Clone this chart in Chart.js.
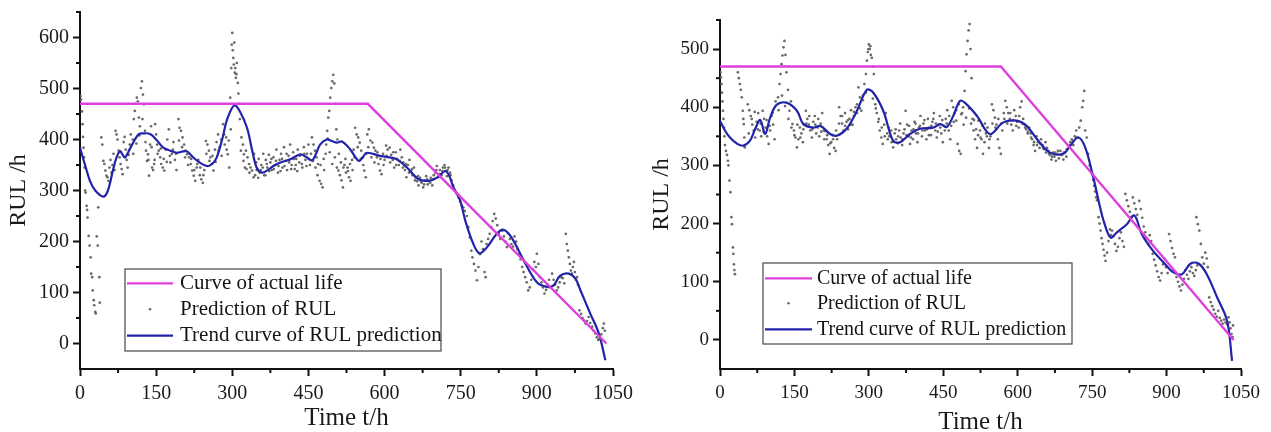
<!DOCTYPE html>
<html><head><meta charset="utf-8">
<script src="https://cdn.jsdelivr.net/npm/chart.js@4.4.1/dist/chart.umd.min.js"></script>
<style>
html,body{margin:0;padding:0;background:#fff;width:1271px;height:432px;overflow:hidden}
.wrap{position:absolute;top:0;height:432px}
</style></head><body>
<div class="wrap" style="left:0;width:640px"><canvas id="c1" width="640" height="432"></canvas></div>
<div class="wrap" style="left:640px;width:631px"><canvas id="c2" width="631" height="432"></canvas></div>
<script>
// ---------- data ----------
const legendLabels = ['Curve of actual life', 'Prediction of RUL', 'Trend curve of RUL prediction'];
const xTitle = 'Time t/h';
const yTitle = 'RUL /h';

const leftActual = [[0,470],[567,470],[1037,0]];
const rightActual = [[0,470],[566,470],[1035,0]];

const leftTrend = [[0,384],[10,350],[20,318],[30,300],[46,288],[55,300],[65,340],[72,365],[79,377],[84,370],[89,365],[100,385],[115,410],[125,412],[138,411],[150,400],[164,384],[178,378],[191,374],[200,376],[210,377],[220,368],[230,359],[250,348],[260,352],[269,364],[280,400],[290,440],[304,467],[315,455],[329,423],[340,375],[348,345],[358,335],[370,340],[381,348],[395,355],[414,361],[434,371],[445,366],[457,359],[465,372],[473,390],[486,400],[496,397],[506,394],[516,396],[532,381],[549,358],[557,365],[565,374],[591,368],[610,365],[624,361],[644,345],[667,322],[687,319],[703,325],[721,338],[736,306],[749,280],[759,241],[775,195],[787,177],[802,189],[821,215],[834,223],[850,208],[874,163],[900,120],[920,111],[933,114],[946,133],[963,137],[976,127],[986,104],[1005,59],[1022,20],[1035,-33]];

const rightTrend = [[0,377],[10,360],[20,348],[35,337],[47,334],[60,342],[71,363],[81,378],[91,354],[101,382],[114,404],[134,408],[155,394],[168,371],[188,365],[202,368],[222,354],[235,351],[255,363],[276,394],[296,430],[309,425],[329,394],[349,342],[363,340],[383,354],[403,363],[430,365],[444,371],[457,366],[470,385],[484,411],[497,405],[518,385],[544,354],[571,374],[598,377],[618,368],[639,345],[665,322],[692,320],[706,334],[722,348],[736,331],[753,277],[766,228],[773,205],[787,176],[800,185],[820,199],[835,214],[850,182],[870,156],[894,133],[914,116],[931,113],[948,131],[965,131],[981,113],[1002,73],[1022,33],[1032,-36]];

const leftPred = [[1,485],[2,478],[3,470],[4,455],[5,430],[6,405],[7,384],[8,365],[9,345],[10,300],[11,296],
[13,270],[14,262],[15,247],[17,211],[19,192],[21,169],[22,137],[24,130],[25,104],[27,85],[28,75],[30,62],[31,59],[33,210],[35,192],[36,267],[38,130],[39,80],
[42,404],[44,390],[46,358],[48,352],[50,339],[52,329],[54,326],[56,319],[58,345],[60,360],[62,335],[64,350],[66,372],[68,340],
[70,417],[72,410],[74,400],[76,378],[78,365],[80,352],[82,342],[84,332],[86,395],[88,405],[90,380],[92,360],[94,345],[96,370],[98,390],[100,410],
[104,400],[106,440],[108,456],[110,470],[112,482],[114,475],[116,443],[118,426],[120,501],[122,514],[124,488],[126,469],[128,417],[130,378],[132,358],[134,371],[136,329],[138,390],[140,426],[142,345],[144,340],[146,352],
[148,430],[150,410],[152,390],[155,378],[158,365],[160,352],[163,345],[166,339],[169,380],[172,400],[175,420],[178,355],[181,372],[184,395],[187,360],[190,340],
[194,440],[196,423],[199,417],[202,404],[205,390],[208,378],[211,371],
[215,365],[218,352],[221,339],[224,329],[227,319],[230,345],[233,360],[236,330],[239,322],[242,315],[245,340],
[248,397],[251,390],[254,378],[257,365],[260,352],[263,339],[266,380],[269,395],[272,410],[275,385],[278,400],
[282,430],[285,390],[288,404],[291,371],[294,345],[296,482],[298,540],[299,586],[300,609],[302,560],[303,547],[305,531],[307,521],[309,550],[311,511],[313,470],[315,440],[318,404],[321,390],[323,371],[325,345],
[327,378],[330,365],[333,352],[336,345],[339,339],[342,326],[345,330],[348,340],[351,325],[354,335],[357,350],[360,345],[363,330],
[366,360],[369,345],[372,370],[375,355],[378,340],[381,365],[384,350],[387,380],[390,335],[393,360],[396,372],[399,345],[402,385],[405,358],[408,340],[411,368],[414,390],[417,350],[420,375],[423,342],[426,362],[429,380],[432,355],[435,370],[438,345],[441,385],[444,360],[447,372],[450,390],[453,350],
[457,404],[460,390],[463,378],[466,365],[469,352],[472,319],[475,313],[478,306],[481,340],[484,372],[487,417],[489,443],[491,456],[493,482],[495,501],[497,514],[499,527],[501,510],[503,470],[505,420],[507,400],[509,339],
[512,330],[515,320],[518,306],[521,350],[524,335],[527,345],[530,326],[533,319],[536,360],[539,380],
[542,423],[545,410],[548,404],[551,394],[554,378],[557,365],[560,339],[563,326],[566,410],[569,420],[572,398],
[576,394],[579,384],[582,378],[585,365],[588,352],[591,339],[594,332],[597,372],[600,360],[603,388],[606,380],
[610,384],[613,370],[616,360],[619,345],[622,375],[625,362],[628,350],[631,380],[634,365],[637,355],[640,340],[643,326],[646,350],[649,360],[652,338],[655,330],[658,345],
[661,326],[664,318],[667,310],[670,325],[673,315],[676,306],[679,320],[682,328],[685,312],[688,318],[691,325],[694,310],[697,330],
[700,335],[703,348],[706,326],[709,340],[712,330],[715,345],[718,350],[720,338],[723,328],[726,345],[729,335],[732,320],[735,310],[738,300],[741,295],
[746,286],[749,278],[752,270],[755,267],[758,260],
[762,250],[765,228],[768,208],[771,182],[773,169],[776,156],[779,143],[782,124],[785,150],[788,175],[791,200],[794,185],[797,140],[799,130],
[801,195],[804,205],[807,215],[810,228],[813,240],[816,254],[819,245],[822,232],[825,215],[828,205],
[832,221],[835,210],[838,200],[841,189],[844,215],[847,205],[850,195],[853,190],[856,210],[859,200],[862,185],[865,175],[868,165],
[871,150],[874,140],[877,130],[880,120],[883,104],[886,110],[889,125],[892,145],[895,160],[898,150],
[900,176],[903,156],[906,130],[909,120],[912,110],[915,98],[918,105],[921,115],[924,125],[927,110],
[930,137],[933,125],[936,115],[939,104],[942,110],[945,120],[948,130],[951,128],[954,118],
[957,215],[959,195],[961,182],[963,169],[965,156],[967,143],[969,137],[971,150],[973,160],[975,140],[977,125],[979,130],[981,115],
[984,65],[987,58],[990,50],[993,45],[996,39],[999,44],[1002,52],[1005,40],
[1009,33],[1012,25],[1015,20],[1018,12],[1021,7],[1024,10],[1027,18],[1030,30],[1032,39],[1034,25],
[343,372],[347,355],[352,362],[356,340],[361,372],[365,330],[368,352],[373,338],[377,362],[382,342],[386,358],[391,348],[395,338],[398,362],[403,348],[407,372],[412,355],[416,342],[421,362],[425,350],[428,338],[433,368],[437,352],[442,372],[446,348],[451,362],[455,372],[459,358],[464,345],[468,330],[474,350],[480,362],[485,390],[488,402],[492,375],[497,352],[502,365],[506,345],[510,372],[514,355],[519,345],[523,362],[528,338],[532,352],[537,340],[541,365],[547,385],[553,362],[558,350],[564,372],[568,385],[574,365],[580,355],[586,375],[592,362],[598,350],[604,368],[611,355],[617,375],[623,350],[630,358],[636,345],[642,352],[648,335],[654,342],[660,320],[666,328],[672,318],[678,312],[684,322],[690,315],[696,322],[702,340],[708,332],[714,338],[719,345],[724,340],[730,330],
[105,372],[111,392],[117,408],[123,440],[129,395],[135,360],[141,385],[147,360],[153,372],[159,382],[165,362],[171,356],[177,368],[183,380],[189,372],[195,398],[201,385],[207,365],[213,350],[219,362],[225,340],[231,352],[237,345],[243,330],[249,372],[255,358],[261,368],[267,356],[273,378],[279,368],[284,410],[289,380],[293,398],[297,420],[301,575],[304,590],[306,540],[308,528],[312,490],[317,378],[322,358],[328,342],[334,335]];

const rightPred = [[1,460],[2,451],[3,440],[4,425],[5,410],[6,394],[7,380],[8,365],[9,350],[10,335],
[12,325],[14,318],[16,308],[17,300],[19,274],[21,254],[23,211],[24,199],[26,159],[27,148],[28,130],[29,120],[30,113],
[36,460],[38,450],[40,440],[42,430],[44,417],[46,394],[47,380],[48,371],[49,348],[50,331],
[56,405],[59,395],[62,385],[65,370],[68,360],[71,348],[74,375],[77,390],[80,360],[83,350],
[86,394],[89,380],[92,365],[95,350],[98,337],[101,360],[104,385],[107,370],[110,345],
[117,417],[120,440],[122,457],[124,474],[126,489],[128,503],[130,514],[132,490],[134,460],[137,430],[140,394],[143,410],
[146,371],[149,360],[152,348],[155,331],[158,345],[161,365],[164,355],[167,340],[170,370],
[173,394],[176,380],[179,370],[182,360],[185,348],[188,375],[191,385],[194,355],[197,365],[200,350],[203,372],[206,390],[209,360],
[212,359],[215,345],[218,335],[221,320],[224,340],[227,352],[230,330],[233,325],[236,345],
[240,400],[243,385],[246,372],[249,360],[252,390],[255,375],[258,362],[261,380],[264,395],[267,370],[270,385],[273,400],[276,390],
[279,434],[282,417],[285,394],[288,420],[291,440],[294,457],[296,480],[298,495],[300,508],[302,500],[304,490],[306,485],[308,470],[310,457],
[313,405],[316,390],[319,375],[322,360],[325,348],[328,337],[331,370],[334,390],[337,355],
[340,365],[343,350],[346,340],[349,331],[352,355],[355,345],[358,338],[361,360],[364,348],[367,335],[370,355],
[374,394],[377,370],[380,350],[383,337],[386,360],[389,345],[392,375],[395,355],[398,340],[401,365],[404,385],[407,350],[410,372],[413,360],[416,345],[419,380],[422,365],[425,352],[428,375],[431,390],[434,360],[437,348],[440,370],[443,385],[446,355],[449,340],[452,368],[455,380],[458,395],[461,360],[464,345],
[467,411],[470,400],[473,390],[476,377],[479,337],[482,325],[485,320],[488,390],[490,400],[493,428],[495,462],[497,491],[499,514],[501,532],[503,543],[505,500],[507,450],[509,380],[511,360],[514,345],
[518,330],[521,377],[524,360],[527,345],[530,320],[533,340],[536,355],[539,365],[542,330],[545,350],
[548,405],[551,395],[554,382],[557,370],[560,345],[563,330],[566,320],[569,360],[572,390],
[575,411],[578,400],[581,390],[584,380],[587,370],[590,360],[593,395],[596,385],[599,375],[602,365],[605,400],[608,410],[611,380],[614,370],[617,362],[620,355],
[623,365],[626,355],[629,345],[632,335],[635,325],[638,350],[641,340],[644,330],[647,345],[650,335],[653,328],[656,340],[659,330],
[662,325],[665,318],[668,310],[671,322],[674,315],[677,308],[680,320],[683,312],[686,325],[689,318],[692,310],[695,322],[698,315],
[703,330],[706,340],[709,345],[712,335],[715,350],[718,360],[721,348],[724,365],[727,377],[730,400],[732,411],[734,428],[736,360],[739,348],[742,320],[745,300],
[750,285],[752,275],[754,265],[756,255],[758,245],[760,240],
[763,211],[765,200],[767,188],[769,175],[771,165],[773,155],[775,145],[777,136],[780,150],[783,170],[786,190],[788,180],
[790,188],[793,178],[796,165],[799,153],[802,160],[805,175],[808,185],[811,170],[814,160],
[817,251],[820,240],[823,230],[826,220],[829,211],[832,245],[835,235],[838,225],[841,215],
[845,239],[848,225],[851,210],[854,195],[857,185],[860,175],[863,165],[866,180],[869,170],
[872,148],[875,138],[878,128],[881,118],[884,108],[887,102],[890,115],[893,130],[896,140],[899,125],[902,115],
[905,182],[908,170],[911,158],[914,148],[917,142],[920,108],[923,100],[926,92],[929,85],[932,95],[935,105],
[938,120],[941,112],[944,105],[947,118],[950,125],[953,115],[956,110],[959,120],[962,128],
[960,211],[963,199],[966,188],[969,165],[972,142],[975,131],[978,150],[981,140],[983,125],
[986,73],[989,65],[992,58],[995,52],[998,45],[1001,40],[1004,50],[1007,38],[1010,33],[1013,28],[1016,35],[1019,30],[1022,27],
[1025,39],[1027,30],[1029,20],[1031,10],[1033,5],[1034,25],
[341,350],[345,360],[350,342],[354,362],[359,350],[363,372],[368,345],[372,362],[376,352],[381,368],[385,348],[390,362],[394,372],[399,355],[403,368],[408,360],[412,378],[417,362],[421,352],[426,368],[430,380],[435,372],[439,358],[444,365],[448,378],[453,360],[457,372],[462,385],[466,368],[471,375],[476,395],[481,405],[486,388],[491,370],[496,382],[502,398],[506,372],[512,378],[516,362],[520,352],[525,348],[529,368],[534,372],[538,350],[543,345],[549,372],[555,365],[561,380],[567,372],[573,380],[579,372],[585,390],[591,378],[597,368],[603,385],[609,372],[615,365],[621,358],[627,348],[633,340],[639,335],[645,338],[651,330],[657,322],[663,320],[669,315],[675,322],[681,325],[687,318],[693,322],[699,328],[705,335],[711,342],[717,348],
[58,355],[64,380],[70,392],[76,362],[82,372],[88,358],[94,378],[100,368],[106,390],[112,410],[118,395],[125,420],[131,402],[138,380],[144,365],[150,352],[156,370],[162,348],[168,362],[174,372],[180,385],[186,362],[192,370],[198,380],[204,358],[210,345],[216,352],[222,338],[228,345],[234,360],[240,372],[246,385],[252,368],[258,378],[264,370],[270,392],[276,405],[282,398],[288,412],[294,425],[299,500],[303,505],[308,415],[314,398],[320,380],[326,365],[332,350],[338,345]];

// ---------- plugins ----------
const FONT = '"Liberation Serif", "Times New Roman", serif';

const minorTicks = {
  id: 'minorTicks',
  afterDraw(chart, args, o) {
    const {ctx, chartArea: ca, scales: {x, y}} = chart;
    ctx.save();
    ctx.strokeStyle = '#111';
    ctx.lineWidth = 2;
    x.ticks.forEach(t => {
      if (t.value % o.xMajor !== 0) {
        const px = x.getPixelForValue(t.value);
        ctx.beginPath(); ctx.moveTo(px, ca.bottom); ctx.lineTo(px, ca.bottom + o.len); ctx.stroke();
      }
    });
    y.ticks.forEach(t => {
      if (t.value % o.yMajor !== 0 && t.value > y.min) {
        const py = y.getPixelForValue(t.value);
        ctx.beginPath(); ctx.moveTo(ca.left - o.len, py); ctx.lineTo(ca.left, py); ctx.stroke();
      }
    });
    ctx.restore();
  }
};

const boxLegend = {
  id: 'boxLegend',
  afterDatasetsDraw(chart, args, o) {
    const ctx = chart.ctx;
    ctx.save();
    ctx.fillStyle = '#fff';
    ctx.fillRect(o.x, o.y, o.w, o.h);
    ctx.strokeStyle = '#555';
    ctx.lineWidth = 1.3;
    ctx.strokeRect(o.x, o.y, o.w, o.h);
    ctx.font = o.fontSize + 'px ' + FONT;
    ctx.textBaseline = 'middle';
    ctx.textAlign = 'left';
    chart.data.datasets.forEach((ds, i) => {
      const yy = o.y + o.rows[i];
      if (ds.showLine === false) {
        ctx.fillStyle = ds.backgroundColor;
        ctx.beginPath(); ctx.arc((o.lineX0 + o.lineX1) / 2, yy, 1.3, 0, Math.PI * 2); ctx.fill();
      } else {
        ctx.strokeStyle = ds.borderColor;
        ctx.lineWidth = 2.2;
        ctx.beginPath(); ctx.moveTo(o.lineX0, yy); ctx.lineTo(o.lineX1, yy); ctx.stroke();
      }
      ctx.fillStyle = '#151515';
      ctx.fillText(ds.label, o.textX, yy);
    });
    ctx.restore();
  }
};

function makeChart(id, cfg) {
  const tickCol = (major) => (c) => (c.tick && c.tick.value % major === 0) ? '#111' : 'rgba(0,0,0,0)';
  return new Chart(document.getElementById(id), {
    type: 'scatter',
    data: {
      datasets: [
        { label: legendLabels[0], data: cfg.actual, showLine: true, borderColor: '#dd40dd', borderWidth: 2.4, pointRadius: 0, tension: 0, order: 0 },
        { label: legendLabels[1], data: cfg.pred, showLine: false, backgroundColor: '#6a6a6a', borderWidth: 0, pointRadius: 1.35, order: 2 },
        { label: legendLabels[2], data: cfg.trend, showLine: true, borderColor: '#2222aa', borderWidth: 2.2, pointRadius: 0, tension: 0.35, order: 1 }
      ]
    },
    options: {
      responsive: false,
      animation: false,
      events: [],
      layout: { padding: cfg.padding },
      scales: {
        x: {
          type: 'linear', min: 0, max: 1050,
          border: { display: true, color: '#111', width: 2 },
          grid: { drawOnChartArea: false, drawTicks: true, tickLength: 7, tickWidth: 2, tickColor: tickCol(150) },
          ticks: { stepSize: 75, autoSkip: false, maxRotation: 0, padding: 6, color: '#1a1a1a',
                   font: { family: FONT, size: cfg.tickSize },
                   callback: v => (v % 150 === 0 ? String(v) : '') },
          title: { display: true, text: xTitle, color: '#1a1a1a', font: { family: FONT, size: 25, lineHeight: cfg.xTitleLH }, padding: { top: 0, bottom: cfg.xTitlePad } },
          afterFit: s => { s.height = 63; }
        },
        y: {
          type: 'linear', min: -50, max: cfg.yMax,
          border: { display: true, color: '#111', width: 2 },
          grid: { drawOnChartArea: false, drawTicks: true, tickLength: 7, tickWidth: 2, tickColor: tickCol(100) },
          ticks: { stepSize: 50, autoSkip: false, padding: 4, color: '#1a1a1a',
                   font: { family: FONT, size: cfg.tickSize, lineHeight: 0.8 },
                   callback: v => (v % 100 === 0 && v >= 0 ? String(v) : '') },
          title: { display: true, text: yTitle, color: '#1a1a1a', font: { family: FONT, size: 24, lineHeight: 1 }, padding: { top: cfg.yTitlePad, bottom: 0 } },
          afterFit: s => { s.width = 80; }
        }
      },
      plugins: {
        legend: { display: false },
        tooltip: { enabled: false },
        minorTicks: { xMajor: 150, yMajor: 100, len: 4 },
        boxLegend: cfg.legend
      }
    },
    plugins: [minorTicks, boxLegend]
  });
}

makeChart('c1', {
  actual: leftActual, trend: leftTrend, pred: leftPred, yMax: 650, tickSize: 20,
  padding: { left: 0, right: 27, top: 10, bottom: 0 },
  xTitleLH: 1, xTitlePad: 1, yTitlePad: 7,
  legend: { x: 125, y: 269, w: 316, h: 82, rows: [14.3, 40.3, 66.7], lineX0: 127, lineX1: 173, textX: 180, fontSize: 21 }
});
makeChart('c2', {
  actual: rightActual, trend: rightTrend, pred: rightPred, yMax: 550, tickSize: 19,
  padding: { left: 0, right: 30, top: 20, bottom: 0 },
  xTitleLH: 0.76, xTitlePad: 0, yTitlePad: 10,
  legend: { x: 123, y: 263, w: 309, h: 81, rows: [15.3, 40.3, 66.3], lineX0: 125, lineX1: 172, textX: 177, fontSize: 20 }
});
</script>
</body></html>
